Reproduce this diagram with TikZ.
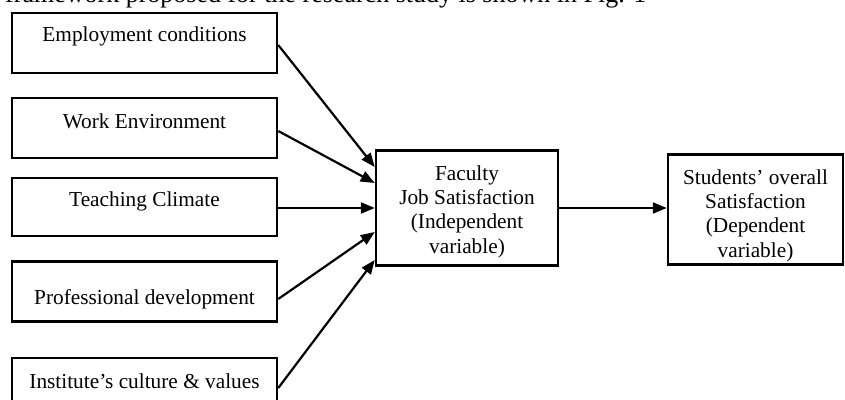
\documentclass[tikz,border=0pt]{standalone}
\usepackage{fontspec}
\setmainfont{Liberation Serif}
\usetikzlibrary{calc,arrows.meta}
\tikzset{
	factorbox/.style={draw, line width=2.5pt, minimum width=265pt, minimum height=60pt, inner sep=0pt},
	factortext/.style={font=\fontsize{21.3}{24.3}\selectfont, inner sep=0pt, align=center},
	linkarrow/.style={line width=2.2pt, -{Triangle[length=14pt,width=11pt]}}
}

\begin{document}
\begin{tikzpicture}[x=1pt,y=-1pt]
			%%%%% START %%%%%
			
			\useasboundingbox (0,0) rectangle (845,399);
			\clip (0,0) rectangle (845,399);
			
			\node[anchor=base west, inner sep=0pt, font=\fontsize{26}{30}\selectfont] (intro) at (5,2) {framework proposed for the research study is shown in Fig. 1};
			
			\node[factorbox] (emp) at (144.5,43) {};
			\node[factortext] (emptext) at (144.5,36.5) {Employment conditions};
			
			\node[factorbox] (work) at (144.5,128) {};
			\node[factortext] (worktext) at (144.5,121.5) {Work Environment};
			
			\node[factorbox, minimum height=58pt] (teach) at (144.5,207) {};
			\node[factortext] (teachtext) at (144.5,201.5) {Teaching Climate};
			
			\node[factorbox] (prof) at (144.5,291.5) {};
			\node[factortext] (proftext) at (144.5,299.5) {Professional development};
			
			\node[factorbox] (inst) at (144.5,388) {};
			\node[factortext] (insttext) at (144.5,381) {Institute's culture \& values};
			
			\node[factorbox, minimum width=182pt, minimum height=115pt] (fac) at (467,208) {};
			\node[factortext] (factext) at (467,211.5) {Faculty\\Job Satisfaction\\(Independent\\variable)};
			
			\node[factorbox, minimum width=175pt, minimum height=110pt] (stu) at (755.5,209.5) {};
			\node[factortext] (stutext) at (755.5,215.5) {Students' overall\\Satisfaction\\(Dependent\\variable)};
			
			\draw[linkarrow] ($(emp.east)+(0,2)$) -- ($(fac.west)+(0,-41)$);
			\draw[linkarrow] ($(work.east)+(0,3)$) -- ($(fac.west)+(0,-25)$);
			\draw[linkarrow] ($(teach.east)+(0,1)$) -- ($(fac.west)+(0,0)$);
			\draw[linkarrow] ($(prof.east)+(0,7.5)$) -- ($(fac.west)+(0,24)$);
			\draw[linkarrow] (inst.east) -- ($(fac.west)+(0,52)$);
			
			\draw[linkarrow] (fac.east) -- (fac.east -| stu.west);
			
			%%%%% END %%%%%
\end{tikzpicture}
\end{document}
